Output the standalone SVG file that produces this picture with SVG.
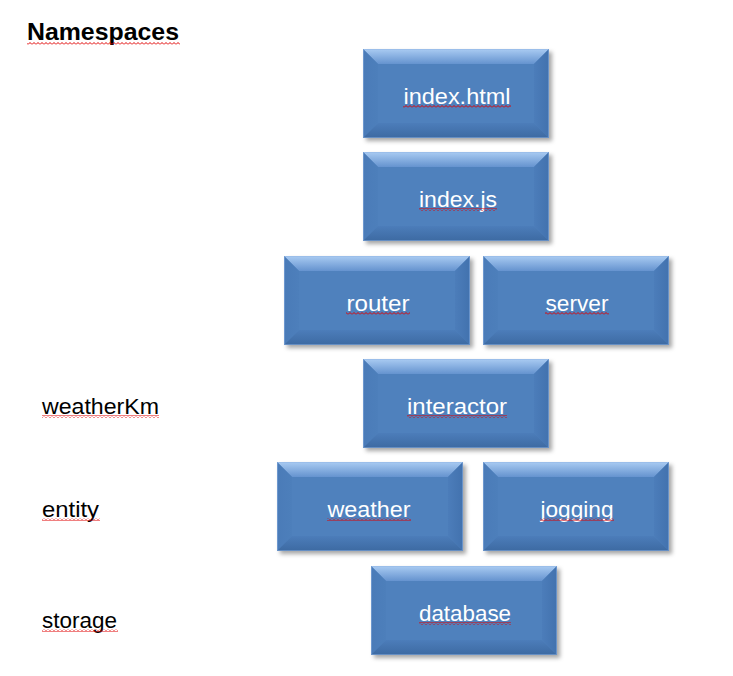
<svg xmlns="http://www.w3.org/2000/svg" xmlns:xlink="http://www.w3.org/1999/xlink" width="733" height="676" viewBox="0 0 733 676">
  <style>
    .lbl { font-family: "Liberation Sans", Arial, sans-serif; font-size: 22px; fill: #000; }
    .title { font-family: "Liberation Sans", Arial, sans-serif; font-size: 24px; font-weight: bold; fill: #000; }
    .btxt { font-family: "Liberation Sans", Arial, sans-serif; font-size: 22px; fill: #fff; text-anchor: middle; }
    .sq { fill: url(#squig); }
  </style>
  <defs>
    <pattern id="squig" width="4" height="3" patternUnits="userSpaceOnUse">
      <path d="M0,2.5 L2,0.5 L4,2.5" fill="none" stroke="#e00000" stroke-width="1"/>
    </pattern>
    <linearGradient id="gTop" x1="0" y1="0" x2="0" y2="1">
      <stop offset="0" stop-color="#a9cbf2"/>
      <stop offset="1" stop-color="#6593cf"/>
    </linearGradient>
    <linearGradient id="gLeft" x1="0" y1="0" x2="1" y2="0">
      <stop offset="0" stop-color="#4a7bb8"/>
      <stop offset="1" stop-color="#4d7fbb"/>
    </linearGradient>
    <linearGradient id="gRight" x1="0" y1="0" x2="1" y2="0">
      <stop offset="0" stop-color="#4c7dba"/>
      <stop offset="1" stop-color="#4272ae"/>
    </linearGradient>
    <linearGradient id="gBot" x1="0" y1="0" x2="0" y2="1">
      <stop offset="0" stop-color="#4c7dba"/>
      <stop offset="1" stop-color="#3d6aa2"/>
    </linearGradient>
    <filter id="shadow" x="-10%" y="-10%" width="125%" height="130%">
      <feDropShadow dx="3" dy="3" stdDeviation="2" flood-color="#000" flood-opacity="0.35"/>
    </filter>
    <symbol id="bevel" width="186" height="89" viewBox="0 0 186 89" overflow="visible">
      <g filter="url(#shadow)">
        <rect x="0" y="0" width="186" height="89" fill="#4f81bd"/>
      </g>
      <polygon points="0,0 186,0 171,15 15,15" fill="url(#gTop)"/>
      <polygon points="0,0 15,15 15,74 0,89" fill="url(#gLeft)"/>
      <polygon points="186,0 186,89 171,74 171,15" fill="url(#gRight)"/>
      <polygon points="0,89 15,74 171,74 186,89" fill="url(#gBot)"/>
      <rect x="15" y="15" width="156" height="59" fill="#4f81bd"/>
      <rect x="0.5" y="0.5" width="185" height="88" fill="none" stroke="#8fb4e3" stroke-opacity="0.5" stroke-width="1"/>
    </symbol>
  </defs>

  <g id="title">
    <text class="title" x="27" y="40" textLength="152" lengthAdjust="spacingAndGlyphs">Namespaces</text>
    <rect class="sq" x="27" y="42" width="153" height="3"/>
  </g>

  <g id="labels">
    <g id="label-weatherKm">
      <text class="lbl" x="42" y="414" textLength="117" lengthAdjust="spacingAndGlyphs">weatherKm</text>
      <rect class="sq" x="42" y="415" width="117" height="3"/>
    </g>
    <g id="label-entity">
      <text class="lbl" x="42" y="517" textLength="57" lengthAdjust="spacingAndGlyphs">entity</text>
      <rect class="sq" x="42" y="518" width="58" height="3"/>
    </g>
    <g id="label-storage">
      <text class="lbl" x="42" y="628" textLength="75" lengthAdjust="spacingAndGlyphs">storage</text>
      <rect class="sq" x="42" y="629" width="76" height="3"/>
    </g>
  </g>

  <g id="connectors"></g>

  <g id="node-index-html">
    <use xlink:href="#bevel" href="#bevel" x="363" y="49" width="186" height="89"/>
    <text class="btxt" x="457" y="104" textLength="107" lengthAdjust="spacingAndGlyphs">index.html</text>
    <rect class="sq" x="403" y="105" width="108" height="3"/>
  </g>
  <g id="node-index-js">
    <use xlink:href="#bevel" href="#bevel" x="363" y="152" width="186" height="89"/>
    <text class="btxt" x="458" y="207" textLength="78" lengthAdjust="spacingAndGlyphs">index.js</text>
    <rect class="sq" x="419" y="208" width="78" height="3"/>
  </g>
  <g id="node-router">
    <use xlink:href="#bevel" href="#bevel" x="284" y="256" width="186" height="89"/>
    <text class="btxt" x="378" y="311" textLength="63" lengthAdjust="spacingAndGlyphs">router</text>
    <rect class="sq" x="346" y="312" width="64" height="3"/>
  </g>
  <g id="node-server">
    <use xlink:href="#bevel" href="#bevel" x="483" y="256" width="186" height="89"/>
    <text class="btxt" x="577" y="311" textLength="63" lengthAdjust="spacingAndGlyphs">server</text>
    <rect class="sq" x="545" y="312" width="64" height="3"/>
  </g>
  <g id="node-interactor">
    <use xlink:href="#bevel" href="#bevel" x="363" y="359" width="186" height="89"/>
    <text class="btxt" x="457" y="414" textLength="100" lengthAdjust="spacingAndGlyphs">interactor</text>
    <rect class="sq" x="407" y="415" width="100" height="3"/>
  </g>
  <g id="node-weather">
    <use xlink:href="#bevel" href="#bevel" x="277" y="462" width="186" height="89"/>
    <text class="btxt" x="369" y="517" textLength="83" lengthAdjust="spacingAndGlyphs">weather</text>
    <rect class="sq" x="327" y="518" width="84" height="3"/>
  </g>
  <g id="node-jogging">
    <use xlink:href="#bevel" href="#bevel" x="483" y="462" width="186" height="89"/>
    <text class="btxt" x="577" y="517" textLength="73" lengthAdjust="spacingAndGlyphs">jogging</text>
    <rect class="sq" x="540" y="518" width="74" height="3"/>
  </g>
  <g id="node-database">
    <use xlink:href="#bevel" href="#bevel" x="371" y="566" width="186" height="89"/>
    <text class="btxt" x="465" y="621" textLength="92" lengthAdjust="spacingAndGlyphs">database</text>
    <rect class="sq" x="419" y="622" width="92" height="3"/>
  </g>
</svg>
